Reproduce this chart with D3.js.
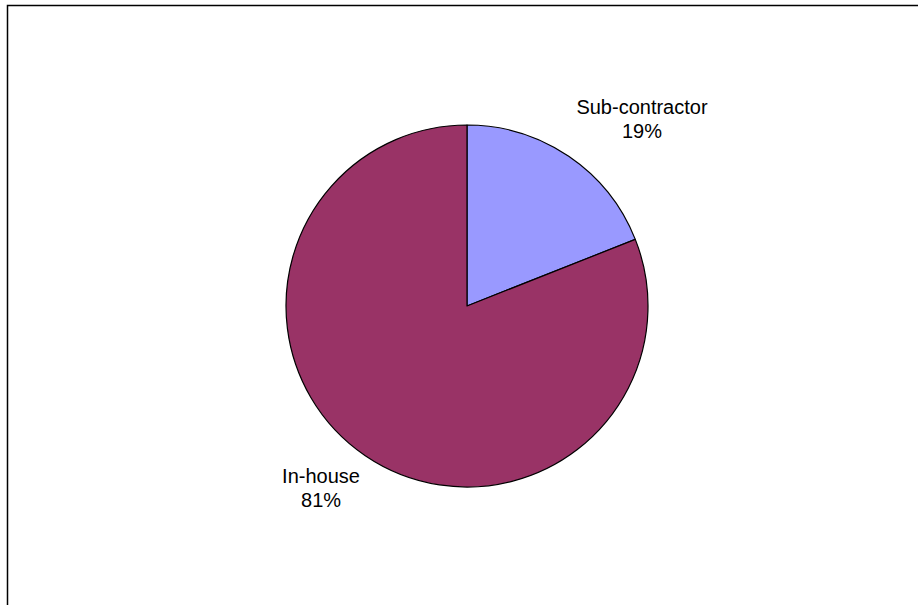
<!DOCTYPE html>
<html>
<head>
<meta charset="utf-8">
<script src="https://cdn.jsdelivr.net/npm/d3@7"></script>
<style>
  html, body { margin: 0; padding: 0; background: #fff; }
  svg { display: block; }
  text { font-family: "Liberation Sans", Arial, sans-serif; fill: #000; }
</style>
</head>
<body>
<svg id="chart" width="918" height="605"></svg>
<script>
// Share of work by who performs it
const categories = ["Sub-contractor", "In-house"];
const shares = [19, 81];
const colors = ["#9999FF", "#993366"];
const percentLabels = ["19%", "81%"];

const svg = d3.select("#chart");
const W = 918, H = 605;

// Chart-area frame (extends beyond the window on the right and bottom)
svg.append("rect")
  .attr("x", 7.5).attr("y", 5.5)
  .attr("width", W + 20).attr("height", H + 20)
  .attr("fill", "#fff")
  .attr("stroke", "#000")
  .attr("stroke-width", 1.5);

const cx = 467, cy = 306, r = 181;

const pie = d3.pie().sort(null).value(d => d.value);
const arcs = pie(categories.map((c, i) => ({ name: c, value: shares[i], color: colors[i], label: percentLabels[i] })));

const arc = d3.arc().innerRadius(0).outerRadius(r);

const g = svg.append("g").attr("transform", `translate(${cx},${cy})`);

g.selectAll("path.slice")
  .data(arcs)
  .join("path")
  .attr("class", "slice")
  .attr("d", arc)
  .attr("fill", d => d.data.color)
  .attr("stroke", "#000")
  .attr("stroke-width", 1.2)
  .attr("stroke-linejoin", "round");

// Labels outside the pie, anchored at each slice's mid-angle and nudged clear of the rim
const labelArc = d3.arc().innerRadius(r * 1.14).outerRadius(r * 1.14);
const labelOffsets = [{ dx: 59, dy: -21 }, { dx: -30, dy: 6 }];

const labels = g.selectAll("g.label")
  .data(arcs)
  .join("g")
  .attr("class", "label")
  .attr("transform", (d, i) => {
    const [x, y] = labelArc.centroid(d);
    return `translate(${x + labelOffsets[i].dx},${y + labelOffsets[i].dy})`;
  });

labels.append("text")
  .attr("text-anchor", "middle")
  .attr("font-size", 20)
  .attr("y", 0)
  .text(d => d.data.name);

labels.append("text")
  .attr("text-anchor", "middle")
  .attr("font-size", 20)
  .attr("y", 24)
  .text(d => d.data.label);
</script>
</body>
</html>
